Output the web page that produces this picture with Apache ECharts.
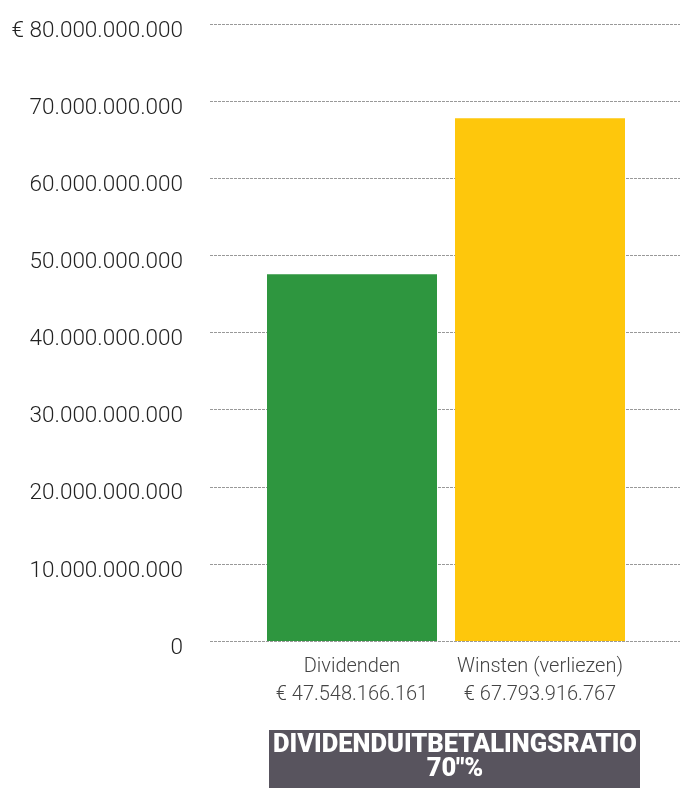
<!DOCTYPE html>
<html>
<head>
<meta charset="utf-8">
<script src="https://cdn.jsdelivr.net/npm/echarts@6/dist/echarts.min.js"></script>
<style>
html,body{margin:0;padding:0;background:#fff;}
#c{width:680px;height:788px;}
</style>
</head>
<body>
<div id="c"></div>
<script>
var categories = ['Dividenden', 'Winsten (verliezen)'];
var values = [47548166161, 67793916767];
var barColors = ['#2e963f', '#fec70c'];
var yTickLabels = ['0', '10.000.000.000', '20.000.000.000', '30.000.000.000', '40.000.000.000', '50.000.000.000', '60.000.000.000', '70.000.000.000', '€ 80.000.000.000'];
var ratioTitle = 'DIVIDENDUITBETALINGSRATIO';
var ratioValue = '70"%';

var yMax = 80000000000, yStep = 10000000000;

function fmt(n) {
  return String(n).replace(/\B(?=(\d{3})+(?!\d))/g, '.');
}

var chart = echarts.init(document.getElementById('c'), null, {renderer: 'canvas'});
var font = 'Roboto, "DejaVu Sans", sans-serif';

chart.setOption({
  animation: false,
  grid: [
    {left: 210, right: 0, top: 24, bottom: 147},
    {left: 258, right: 46, top: 24, bottom: 147}
  ],
  xAxis: [
    {gridIndex: 0, type: 'category', data: categories, show: false},
    {
      gridIndex: 1, type: 'category', data: categories,
      axisLine: {show: false}, axisTick: {show: false},
      axisLabel: {
        interval: 0, margin: 12,
        fontFamily: font, fontSize: 20, fontWeight: 300, color: '#444', lineHeight: 28,
        formatter: function (v, i) { return v + '\n€ ' + fmt(values[i]); }
      }
    }
  ],
  yAxis: [
    {
      gridIndex: 0, type: 'value', min: 0, max: yMax, interval: yStep,
      axisLine: {show: false}, axisTick: {show: false},
      axisLabel: {
        margin: 27, fontFamily: font, fontSize: 22.5, fontWeight: 300, color: '#222',
        verticalAlign: 'top', lineHeight: 14,
        formatter: function (v) { return yTickLabels[Math.round(v / yStep)]; }
      },
      splitLine: {show: true, lineStyle: {color: '#999', width: 1, type: [3, 1]}}
    },
    {
      gridIndex: 1, type: 'value', min: 0, max: yMax, interval: yStep,
      show: false, splitLine: {show: false}
    }
  ],
  series: [{
    type: 'bar',
    xAxisIndex: 1, yAxisIndex: 1,
    barWidth: 170,
    data: values.map(function (v, i) { return {value: v, itemStyle: {color: barColors[i]}}; })
  }],
  graphic: [
    {
      type: 'rect', left: 269, top: 730,
      shape: {width: 371, height: 58},
      style: {fill: '#58545e'}, z: 10
    },
    {
      type: 'text', x: 455, y: 758, z: 11,
      style: {
        text: ratioTitle + '\n' + ratioValue,
        fill: '#fff', fontFamily: font, fontWeight: 900, fontSize: 25.5,
        lineHeight: 24, align: 'center', verticalAlign: 'middle'
      }
    }
  ]
});
</script>
</body>
</html>
